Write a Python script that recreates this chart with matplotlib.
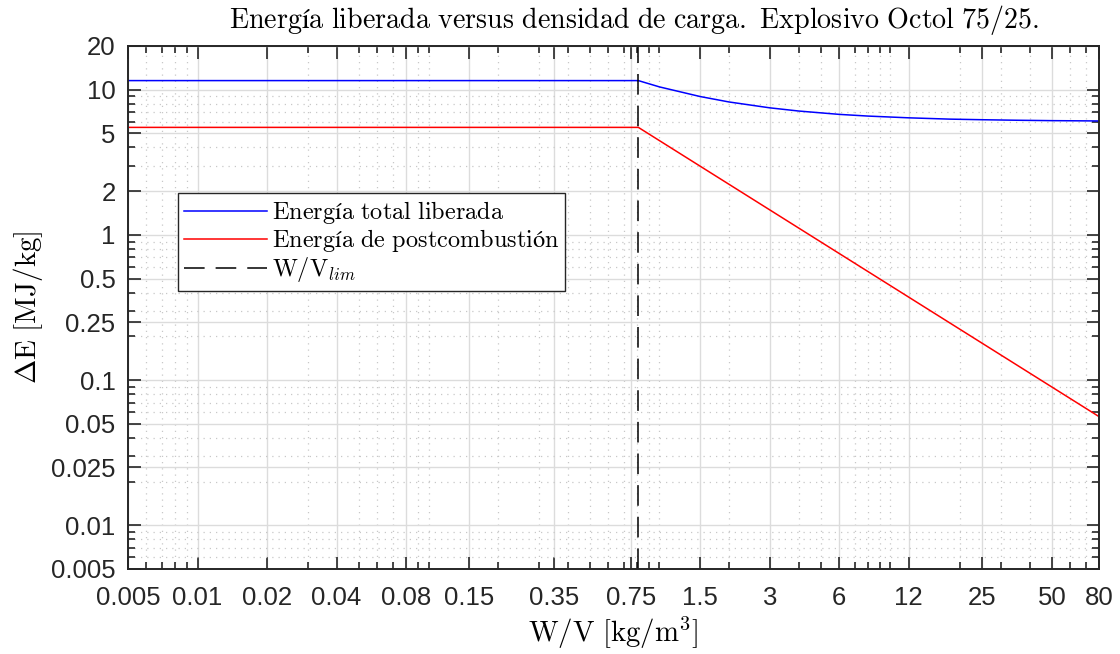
import matplotlib
matplotlib.use("Agg")
import matplotlib.pyplot as plt
from matplotlib.ticker import FixedLocator, FixedFormatter, LogLocator, NullFormatter

plt.rcParams['mathtext.fontset'] = 'cm'
plt.rcParams['font.family'] = ['Liberation Sans', 'DejaVu Sans']

# Charge density W/V [kg/m^3] and released energy [MJ/kg]
wv_limit = 0.81
wv_total = [0.005, 0.81, 1.0, 1.5, 2.0, 3.0, 4.0, 6.0, 8.0, 12.0, 18.0, 25.0, 35.0, 50.0, 80.0]
e_total = [11.55, 11.55, 10.45, 8.97, 8.23, 7.50, 7.13, 6.76, 6.58, 6.40, 6.27, 6.21, 6.16, 6.12, 6.09]
wv_post = [0.005, 0.81, 80.0]
e_post = [5.5, 5.5, 0.056]

x_ticks = [0.005, 0.01, 0.02, 0.04, 0.08, 0.15, 0.35, 0.75, 1.5, 3, 6, 12, 25, 50, 80]
x_labels = ['0.005', '0.01', '0.02', '0.04', '0.08', '0.15', '0.35', '0.75', '1.5',
            '3', '6', '12', '25', '50', '80']
y_ticks = [0.005, 0.01, 0.025, 0.05, 0.1, 0.25, 0.5, 1, 2, 5, 10, 20]
y_labels = ['0.005', '0.01', '0.025', '0.05', '0.1', '0.25', '0.5', '1', '2', '5', '10', '20']

fig = plt.figure(figsize=(11.2, 6.54), dpi=100)
ax = fig.add_axes([0.1143, 0.130, 0.8670, 0.7997])

ax.plot(wv_total, e_total, color='#0000ff', lw=1.1, label=r'$\mathrm{Energía\ total\ liberada}$')
ax.plot(wv_post, e_post, color='#ff0000', lw=1.1, label=r'$\mathrm{Energía\ de\ postcombustión}$')
ax.axvline(wv_limit, color='black', lw=1.1, ls=(0, (13.5, 7.2)), label=r'$\mathrm{W/V}_{lim}$')

ax.set_xscale('log')
ax.set_yscale('log')
ax.set_xlim(0.005, 80)
ax.set_ylim(0.005, 20)

ax.xaxis.set_major_locator(FixedLocator(x_ticks))
ax.xaxis.set_major_formatter(FixedFormatter(x_labels))
ax.yaxis.set_major_locator(FixedLocator(y_ticks))
ax.yaxis.set_major_formatter(FixedFormatter(y_labels))
for axis in (ax.xaxis, ax.yaxis):
    axis.set_minor_locator(LogLocator(base=10, subs=range(1, 10), numticks=50))
    axis.set_minor_formatter(NullFormatter())

axc = '#262626'
ax.tick_params(which='both', direction='in', top=True, right=True, colors=axc,
               labelcolor='#262626', width=1.2)
ax.tick_params(which='major', length=9, labelsize=18.5)
ax.tick_params(axis='x', which='major', pad=12)
ax.tick_params(axis='y', which='major', pad=9)
ax.tick_params(which='minor', length=5)
for s in ax.spines.values():
    s.set_color(axc)
    s.set_linewidth(1.4)

ax.grid(which='major', color='#dcdcdc', lw=1.0, ls='-')
ax.grid(which='minor', color='#c8c8c8', lw=0.9, ls=(0, (1, 4)))
ax.set_axisbelow(True)

ax.set_title(r'$\mathrm{Energía\ liberada\ versus\ densidad\ de\ carga.\ Explosivo\ Octol\ 75/25.}$',
             fontsize=20.2, pad=13, x=0.5215)
ax.set_xlabel(r'$\mathrm{W/V}\ [\mathrm{kg/m}^3]$', fontsize=20.8, labelpad=4)
ax.set_ylabel(r'$\Delta\mathrm{E}\ [\mathrm{MJ/kg}]$', fontsize=21, labelpad=4)

leg = ax.legend(loc='upper left', bbox_to_anchor=(0.0515, 0.719), fontsize=17.5,
                frameon=True, fancybox=False, edgecolor='#262626', framealpha=1,
                handlelength=3.4, handletextpad=0.2, borderpad=0.25, labelspacing=0.05,
                borderaxespad=0)
leg.get_frame().set_linewidth(1.0)

fig.savefig('out.png', dpi=100)
